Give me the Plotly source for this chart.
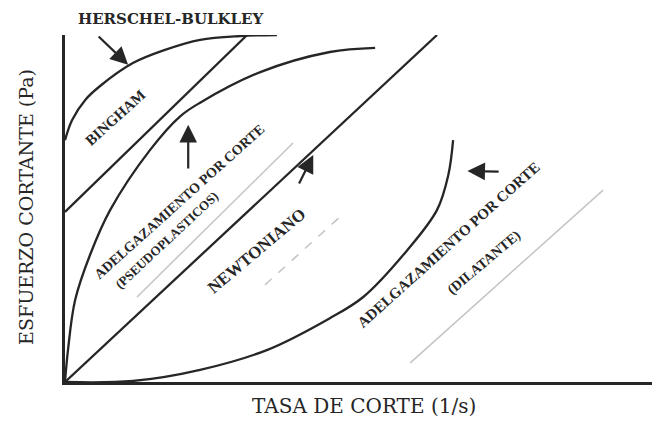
import plotly.graph_objects as go

# Curves, arbitrary units (shear rate 0-100, stress 0-100)
hb_x = [0, 1.2, 3.4, 5.9, 11.4, 16.8, 22.7, 29.4, 35.6]
hb_y = [69.7, 75.5, 81.3, 85.3, 91.9, 95.7, 98.6, 99.7, 100]

bingham_x = [0, 30.6]
bingham_y = [49, 100]

pseudo_x = [0, 0.5, 1.7, 4.2, 7.6, 14.3, 19.3, 22.7, 32.8, 44.5, 52.1]
pseudo_y = [0, 9.2, 23.6, 36.6, 49.6, 66.9, 76.5, 80.5, 89.3, 95.1, 96.3]

newton_x = [0, 62.5]
newton_y = [0, 100]

dilat_x = [0, 11.4, 22.7, 33.9, 44.5, 50.1, 57.5, 62.5, 64.4, 65.2]
dilat_y = [0, 0.3, 3.5, 9.2, 18.4, 24.5, 38, 49.6, 59.7, 69.7]

# faint guide strokes beside the labels
guide_pseudo_x = [12.1, 38.3]
guide_pseudo_y = [24.5, 68.9]
guide_newton_x = [33.6, 46.2]
guide_newton_y = [28, 47.6]
guide_dilat_x = [58, 90.4]
guide_dilat_y = [5.5, 55.3]

INK = '#262626'
GUIDE = '#c4c4c4'
SERIF = 'Liberation Serif'
WIDE_SERIF = 'DejaVu Serif'

fig = go.Figure()

for xs, ys in [(hb_x, hb_y), (bingham_x, bingham_y), (pseudo_x, pseudo_y),
               (newton_x, newton_y), (dilat_x, dilat_y)]:
    fig.add_trace(go.Scatter(x=xs, y=ys, mode='lines', line_shape='spline',
                             line=dict(color=INK, width=2.3), hoverinfo='skip'))

for xs, ys, dash in [(guide_pseudo_x, guide_pseudo_y, 'solid'),
                     (guide_newton_x, guide_newton_y, 'dash'),
                     (guide_dilat_x, guide_dilat_y, 'solid')]:
    fig.add_trace(go.Scatter(x=xs, y=ys, mode='lines',
                             line=dict(color=GUIDE, width=1.5, dash=dash), hoverinfo='skip'))

# arrows (head x,y / tail ax,ay)
arrows = [
    (10.6, 91.4, 5.4, 100),
    (20.7, 74.1, 20.7, 61.1),
    (41.7, 65.4, 39.2, 56.8),
    (67.6, 60.8, 73.1, 60.6),
]
for x, y, ax, ay in arrows:
    fig.add_annotation(x=x, y=y, ax=ax, ay=ay, xref='x', yref='y', axref='x', ayref='y',
                       text='', showarrow=True, arrowhead=2, arrowsize=1.6,
                       arrowwidth=2.2, arrowcolor=INK)

labels = [
    ('BINGHAM', 8.4, 76.1, -42, 15),
    ('ADELGAZAMIENTO POR CORTE', 19.3, 51.9, -42, 14),
    ('(PSEUDOPLASTICOS)', 17.0, 40.9, -43, 13),
    ('NEWTONIANO', 32.3, 37.8, -40, 17),
    ('ADELGAZAMIENTO POR CORTE', 64.4, 39.5, -42, 15),
    ('(DILATANTE)', 70.4, 34.3, -40, 14),
]
for txt, x, y, ang, size in labels:
    fig.add_annotation(x=x, y=y, xref='x', yref='y', text='<b>%s</b>' % txt,
                       textangle=ang, showarrow=False,
                       font=dict(family=SERIF, size=size, color=INK))

fig.add_annotation(x=0.176, y=1.047, xref='paper', yref='paper',
                   xanchor='center', yanchor='middle',
                   text='<b>HERSCHEL-BULKLEY</b>', showarrow=False,
                   font=dict(family=WIDE_SERIF, size=15, color=INK))
fig.add_annotation(x=-0.065, y=0.504, xref='paper', yref='paper',
                   xanchor='center', yanchor='middle',
                   text='ESFUERZO CORTANTE (Pa)', textangle=-90, showarrow=False,
                   font=dict(family=WIDE_SERIF, size=19, color=INK))
fig.add_annotation(x=0.496, y=-0.069, xref='paper', yref='paper',
                   xanchor='center', yanchor='middle',
                   text='TASA DE CORTE (1/s)', showarrow=False,
                   font=dict(family=WIDE_SERIF, size=20, color=INK))

fig.update_xaxes(range=[0, 101.3], showline=True, linewidth=3, linecolor=INK,
                 showgrid=False, zeroline=False, showticklabels=False, ticks='')
fig.update_yaxes(range=[0, 100], showline=True, linewidth=3, linecolor=INK,
                 showgrid=False, zeroline=False, showticklabels=False, ticks='')

# page body adds an 8px offset, so the margins absorb it
fig.update_layout(width=660, height=421, showlegend=False,
                  margin=dict(l=57, r=0, t=27, b=47),
                  paper_bgcolor='white', plot_bgcolor='white')

fig.write_html('out.html')
